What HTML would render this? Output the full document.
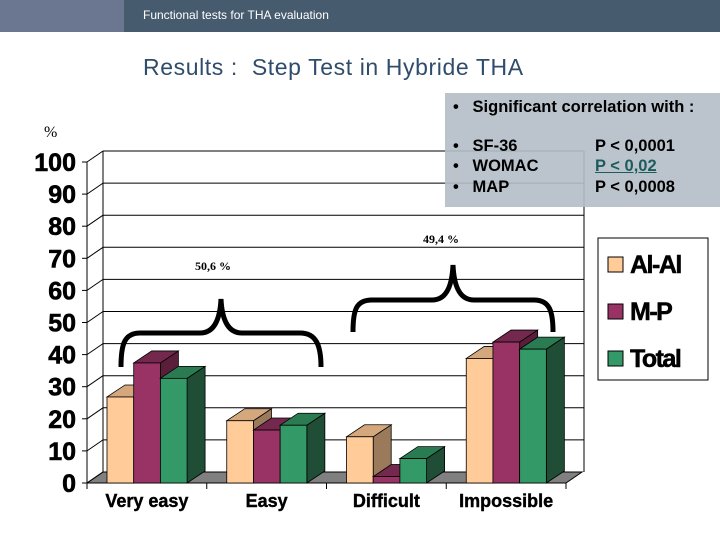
<!DOCTYPE html>
<html><head><meta charset="utf-8"><style>
body{margin:0;width:720px;height:540px;overflow:hidden;background:#fff;font-family:"Liberation Sans",sans-serif;position:relative}
</style></head><body>
<div style="position:absolute;left:0;top:0;width:720px;height:32px;background:#465b6e"></div>
<div style="position:absolute;left:0;top:0;width:124px;height:32px;background:#6b7690"></div>
<div style="position:absolute;left:143px;top:8px;font-size:12px;color:#fff">Functional tests for THA evaluation</div>
<div style="position:absolute;left:143px;top:54px;font-size:23px;color:#2f4d6b;letter-spacing:0.6px">Results :&nbsp; Step Test in Hybride THA</div>
<svg width="720" height="540" style="position:absolute;left:0;top:0" id="chart"></svg>
<div style="position:absolute;left:445px;top:93px;width:275px;height:114px;background:rgba(180,190,198,0.9);font-weight:bold;font-size:16.5px;color:#000">
<div style="position:absolute;left:8px;top:5px">•&nbsp;&nbsp; Significant correlation with :</div>
<div style="position:absolute;left:8px;top:44px">•&nbsp;&nbsp; SF-36</div>
<div style="position:absolute;left:8px;top:64px">•&nbsp;&nbsp; WOMAC</div>
<div style="position:absolute;left:8px;top:85px">•&nbsp;&nbsp; MAP</div>
<div style="position:absolute;left:150px;top:44px">P &lt; 0,0001</div>
<div style="position:absolute;left:150px;top:64px;color:#1c5c5c;text-decoration:underline">P &lt; 0,02</div>
<div style="position:absolute;left:150px;top:85px">P &lt; 0,0008</div>
</div>
<script>
const categories=["Very easy","Easy","Difficult","Impossible"];
const seriesNames=["Al-Al","M-P","Total"];
const alAl=[26.8,19.4,14.4,38.8];
const mp=[37.4,16.5,2,43.9];
const total=[32.6,18,7.6,41.7];
const yTicks=[0,10,20,30,40,50,60,70,80,90,100];
const NS="http://www.w3.org/2000/svg";
const svg=document.getElementById('chart');
function mk(t,a,p){const e=document.createElementNS(NS,t);for(const k in a)e.setAttribute(k,a[k]);(p||svg).appendChild(e);return e;}
const x0=87,x1=566,y0=483,ppu=3.21,dx=16,dy=11;
const y=v=>y0-v*ppu;
const gw=(x1-x0)/categories.length;
const gx=i=>x0+i*gw;
let e=mk('polygon',{points:`${x0},${y0} ${x1},${y0} ${x1+dx},${y0-dy} ${x0+dx},${y0-dy}`,fill:'#808080',stroke:'#000','stroke-width':1});

yTicks.forEach(t=>{
 if(t>0){const g=mk('line',{x1:x0+dx,x2:x1+dx+2,y1:y(t)-dy,y2:y(t)-dy,stroke:'#000','stroke-width':1});
 }
 const d=mk('line',{x1:x0,y1:y(t),x2:x0+dx,y2:y(t)-dy,stroke:'#000','stroke-width':1});
 
 const tk=mk('line',{x1:x0-5,y1:y(t),x2:x0,y2:y(t),stroke:'#000'});
 
 const l=mk('text',{x:76,y:y(t)+9,'text-anchor':'end','font-size':25,'font-weight':'bold','font-family':'Liberation Sans,sans-serif',stroke:'#000','stroke-width':0.6});
 l.textContent=t;
});
e=mk('line',{x1:x0+dx,y1:y(100)-dy,x2:x0+dx,y2:y0-dy,stroke:'#000'});
e=mk('line',{x1:x1+dx+2,y1:y(100)-dy,x2:x1+dx+2,y2:y0-dy,stroke:'#000'});
e=mk('line',{x1:x0,y1:y(100),x2:x0,y2:y0,stroke:'#000'});
e=mk('line',{x1:x0,y1:y0,x2:x1,y2:y0,stroke:'#000'});
for(let i=0;i<=categories.length;i++){const t=mk('line',{x1:gx(i),x2:gx(i),y1:y0,y2:y0+6,stroke:'#000'});}
const cols=[["#ffcc99","#d4a77c","#9a7a5a"],["#993366","#74284d","#5a1e3b"],["#339966","#2a7a52","#1f4d35"]];
const series=[alAl,mp,total];
const bw=26.7,bd=18,bh=12;
categories.forEach((c,i)=>{
 series.forEach((s,j)=>{
  const bx=gx(i)+20+j*bw,top=y(s[i]);
  const g=mk('g',{});
  mk('polygon',{points:`${bx+bw},${top} ${bx+bw+bd},${top-bh} ${bx+bw+bd},${y0-bh} ${bx+bw},${y0}`,fill:cols[j][2],stroke:'#000','stroke-width':0.8},g);
  mk('polygon',{points:`${bx},${top} ${bx+bd},${top-bh} ${bx+bw+bd},${top-bh} ${bx+bw},${top}`,fill:cols[j][1],stroke:'#000','stroke-width':0.8},g);
  mk('rect',{x:bx,y:top,width:bw,height:y0-top,fill:cols[j][0],stroke:'#000','stroke-width':0.8},g);
 });
 const l=mk('text',{x:gx(i)+gw/2,y:507,'text-anchor':'middle','font-size':18,'font-weight':'bold','font-family':'Liberation Sans,sans-serif',stroke:'#000','stroke-width':0.4});
 l.textContent=c;
});
e=mk('path',{d:'M121,367 C121,345 124,333 140,333 L200,333 C214,333 220,320 221,299 C222,320 228,333 242,333 L300,333 C316,333 321,345 321,367',fill:'none',stroke:'#000','stroke-width':5});

e=mk('path',{d:'M353,332 C353,310 356,300 372,300 L432,300 C446,300 452,287 453,265 C454,287 460,300 474,300 L534,300 C550,300 553,312 553,332',fill:'none',stroke:'#000','stroke-width':5});

[["50,6 %",195,270,'label-50-6'],["49,4 %",423,243,'label-49-4'],["%",44,137,'y-unit-label']].forEach(a=>{
 const t=mk('text',{x:a[1],y:a[2],'font-size':a[0]=="%"?16:12,'font-weight':a[0]=="%"?'normal':'bold','font-family':'Liberation Serif,serif'});t.textContent=a[0];
 });
e=mk('rect',{x:598,y:238,width:110,height:142,fill:'#fff',stroke:'#000','stroke-width':1});

seriesNames.forEach((n,j)=>{
 const g=mk('g',{});
 const yy=257+j*47;
 mk('rect',{x:608,y:yy,width:15,height:15,fill:cols[j][0],stroke:'#000'},g);
 const t=mk('text',{x:630,y:yy+16,'font-size':25,'font-weight':'bold','font-family':'Liberation Sans,sans-serif','letter-spacing':'-1.5',stroke:'#000','stroke-width':0.5},g);t.textContent=n;
});
</script>
</body></html>
